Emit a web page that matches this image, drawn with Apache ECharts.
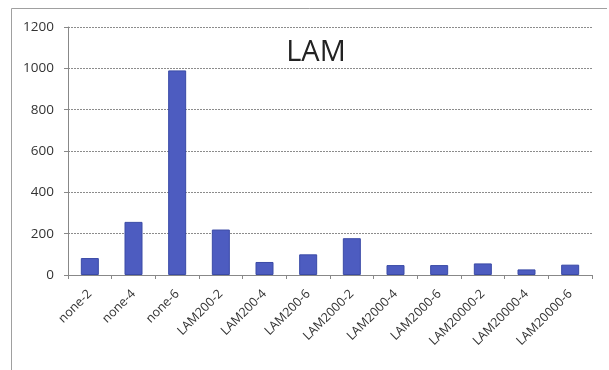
<!DOCTYPE html>
<html>
<head>
<meta charset="utf-8">
<script src="https://cdn.jsdelivr.net/npm/echarts@6/dist/echarts.min.js"></script>
<style>
html, body { margin: 0; padding: 0; background: #fff; }
#chart { width: 609px; height: 370px; }
</style>
</head>
<body>
<div id="chart"></div>
<script>
// Run labels and the measured LAM values
const categories = ['none-2', 'none-4', 'none-6', 'LAM200-2', 'LAM200-4', 'LAM200-6',
  'LAM2000-2', 'LAM2000-4', 'LAM2000-6', 'LAM20000-2', 'LAM20000-4', 'LAM20000-6'];
const lamValues = [82, 257, 990, 220, 63, 100, 178, 48, 48, 56, 27, 50];
const yTicks = [0, 200, 400, 600, 800, 1000, 1200];

const chart = echarts.init(document.getElementById('chart'), null, { renderer: 'canvas' });
chart.setOption({
  animation: false,
  backgroundColor: '#ffffff',
  title: {
    text: 'LAM',
    left: 311,
    top: 33,
    textAlign: 'center',
    textStyle: { fontFamily: 'Open Sans', fontWeight: 'normal', fontSize: 29, color: '#222' }
  },
  // frame: top and left edges only
  graphic: [{
    type: 'polyline',
    shape: { points: [[11.5, 370], [11.5, 8.5], [607, 8.5]] },
    style: { fill: 'none', stroke: '#a0a0a0', lineWidth: 1 },
    silent: true
  }],
  grid: { left: 68, right: 17, top: 27, bottom: 95 },
  xAxis: {
    type: 'category',
    data: categories,
    axisLine: { lineStyle: { color: '#888', width: 1 } },
    axisTick: { show: true, alignWithLabel: false, length: 4, lineStyle: { color: '#888' } },
    axisLabel: {
      rotate: 45, interval: 0, margin: 17,
      fontFamily: 'Open Sans', fontSize: 12.5, color: '#333'
    }
  },
  yAxis: {
    type: 'value',
    min: yTicks[0],
    max: yTicks[yTicks.length - 1],
    interval: 200,
    axisLine: { show: true, lineStyle: { color: '#888', width: 1 } },
    axisTick: { show: true, length: 4, lineStyle: { color: '#888' } },
    axisLabel: {
      margin: 14, fontFamily: 'Open Sans', fontSize: 13.5, color: '#333',
      formatter: v => String(v)
    },
    splitLine: { lineStyle: { color: '#8c8c8c', width: 1, type: [2, 1] } }
  },
  series: [{
    type: 'bar',
    data: lamValues,
    barWidth: 18,
    itemStyle: { color: '#4d5cc0', borderColor: '#3a4aa6', borderWidth: 1 }
  }]
});
</script>
</body>
</html>
